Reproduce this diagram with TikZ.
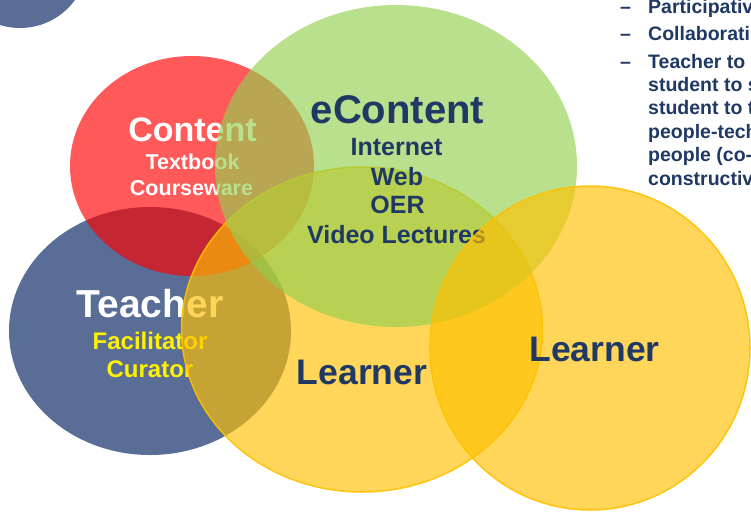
\documentclass[tikz,border=0pt]{standalone}
\usepackage{fontspec}
\setmainfont{Liberation Sans}
\usetikzlibrary{shapes.geometric}
\definecolor{slateblue}{RGB}{89,109,150}
\definecolor{inknavy}{RGB}{31,56,100}
\definecolor{pptred}{RGB}{255,0,0}
\definecolor{pptgreen}{RGB}{146,208,80}
\definecolor{pptgold}{RGB}{255,192,0}
\newcommand{\vennfont}[1]{\fontsize{#1}{#1}\selectfont\bfseries}
\tikzset{
  blob/.style={
      ellipse,
      inner sep=0pt,
      fill opacity=0.65,
  },
  learnblob/.style={
      blob,
      fill=pptgold,
      draw=pptgold,
      draw opacity=0.9,
      line width=1.5pt,
  },
  word/.style={
      inner sep=0pt,
      anchor=base,
      text=inknavy,
  },
  listline/.style={
      word,
      anchor=base west,
      font=\vennfont{19.5},
  }
}
\begin{document}
\begin{tikzpicture}[x=1pt,y=-1pt]
    \useasboundingbox (0,0) rectangle (751,512);
    \node[circle, fill=slateblue, inner sep=0pt, minimum size=136pt] (corner) at (20,-40) {};
    % teacher
    \node[blob, fill=slateblue, fill opacity=1, minimum width=282pt, minimum height=248pt] (teacher) at (150,331) {};
    \node[word, text=white, font=\vennfont{39}] (teacherhead) at (150,317) {Teacher};
    \node[word, text=yellow, font=\vennfont{24}] (facilitator) at (150,349) {Facilitator};
    \node[word, text=yellow, font=\vennfont{24}] (curator) at (150,377) {Curator};
    % content
    \node[blob, fill=pptred, minimum width=244pt, minimum height=220pt] (content) at (192,166) {};
    \node[word, text=white, font=\vennfont{34}] (contenthead) at (192.5,141) {Content};
    \node[word, text=white, font=\vennfont{21.5}] (textbook) at (192.5,169) {Textbook};
    \node[word, text=white, font=\vennfont{21.5}] (courseware) at (191.5,195) {Courseware};
    % learners and econtent
    \node[learnblob, minimum width=361pt, minimum height=325pt] (learnA) at (362,329.5) {};
    \node[blob, fill=pptgreen, minimum width=362pt, minimum height=322pt] (econtent) at (396,166) {};
    \node[word, font=\vennfont{40}] (econtenthead) at (397.5,123) {eContent};
    \node[word, font=\vennfont{25}] (internet) at (396.5,155) {Internet};
    \node[word, font=\vennfont{25}] (web) at (397,185) {Web};
    \node[word, font=\vennfont{25}] (oer) at (397.5,213) {OER};
    \node[word, font=\vennfont{25}] (video) at (396.5,243) {Video Lectures};
    \node[word, font=\vennfont{35.5}] (learnAhead) at (362,384) {Learner};
    \node[learnblob, minimum width=320pt, minimum height=324pt] (learnB) at (590,348) {};
    \node[word, font=\vennfont{35.5}] (learnBhead) at (594.5,361) {Learner};
    % list on the right
    \node[listline] (dashA) at (620,13) {–};
    \node[listline] (participative) at (648,13) {Participativ};
    \node[listline] (dashB) at (620,40) {–};
    \node[listline] (collaborative) at (648,40) {Collaborati};
    \node[listline] (dashC) at (620,68) {–};
    \foreach \txt [count=\i from 0] in {Teacher to, student to s, student to t, people-tech, people (co-, constructiv}
        \node[listline] (line\i) at (648,68+23.4*\i) {\txt};
\end{tikzpicture}
\end{document}
